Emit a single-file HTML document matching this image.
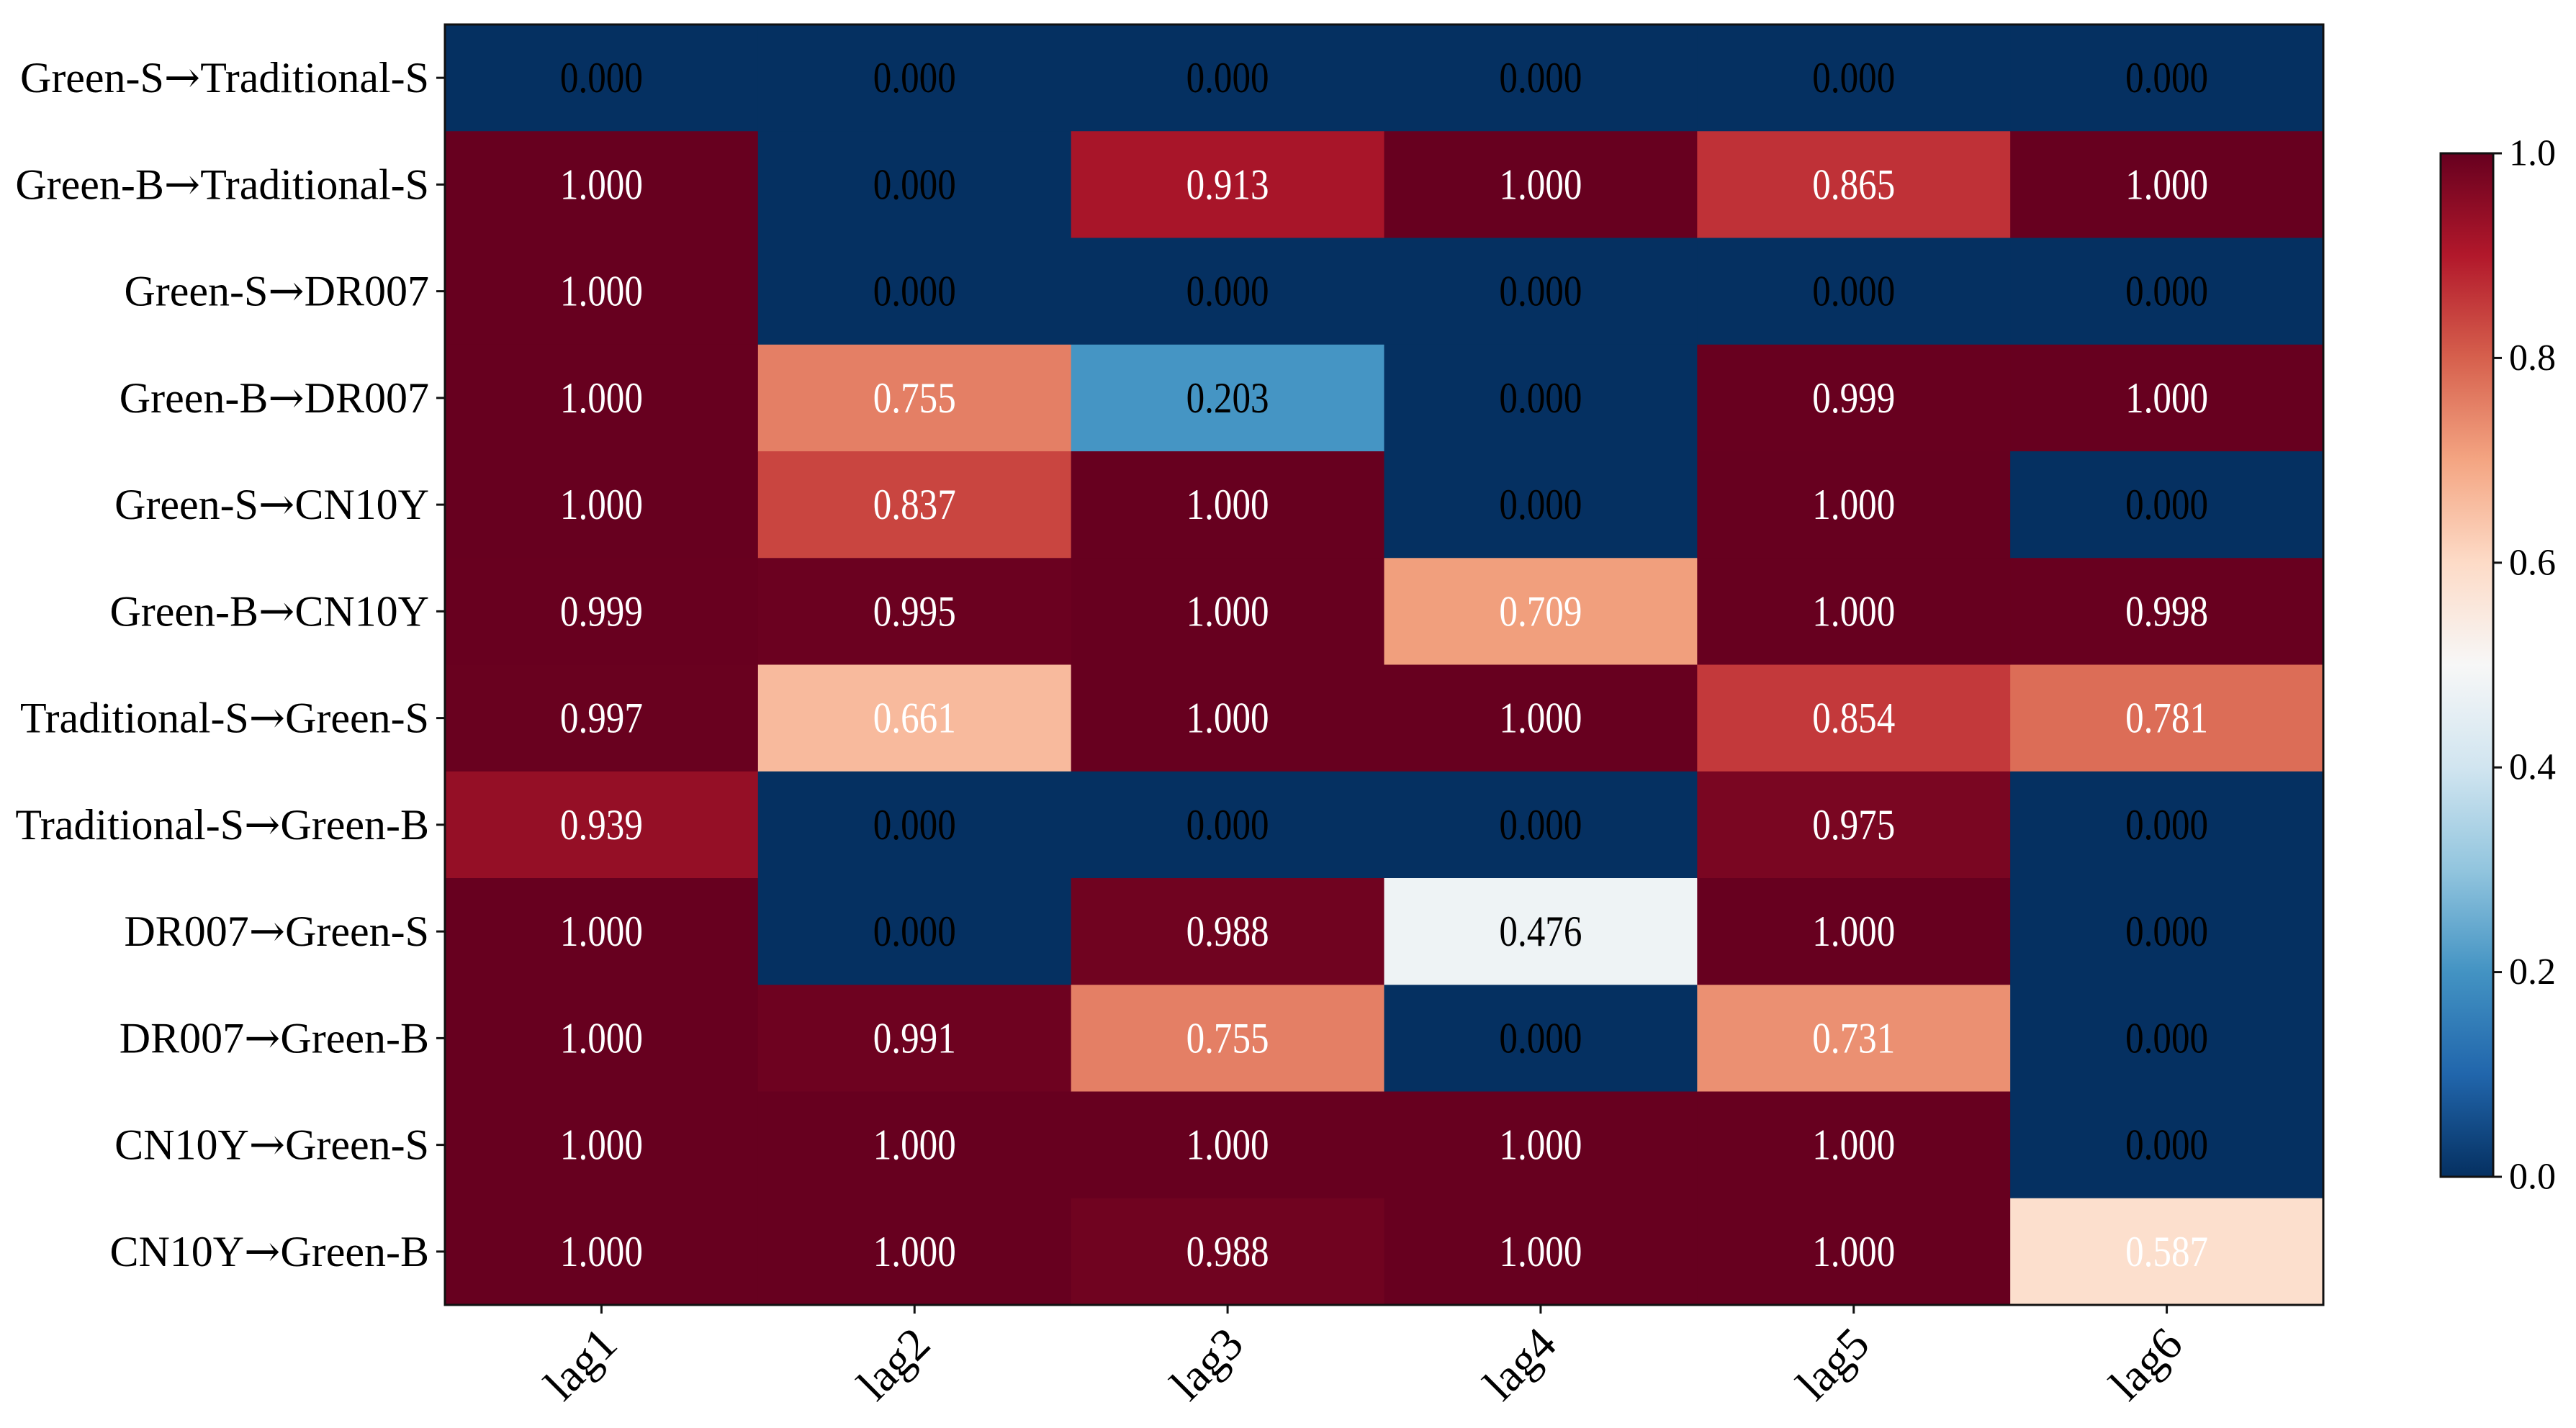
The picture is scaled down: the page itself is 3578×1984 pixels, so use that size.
<!DOCTYPE html>
<html><head><meta charset="utf-8"><style>
html,body{margin:0;padding:0;background:#fff;}
svg{display:block;font-family:"Liberation Serif","Times New Roman",serif;}
</style></head><body>
<svg id="chart" width="3578" height="1984" viewBox="0 0 3578 1984" xmlns="http://www.w3.org/2000/svg">
<defs>
<linearGradient id="cbgrad" x1="0" y1="1" x2="0" y2="0"></linearGradient>
</defs>
<g id="cells"></g>
<g id="annots"></g>
<rect x="618" y="34" width="2609" height="1779" fill="none" stroke="#111" stroke-width="3"/>
<g id="yaxis"></g>
<g id="xaxis"></g>
<g id="cbar"></g>
</svg>
<script>
const rows = ["Green-S→Traditional-S","Green-B→Traditional-S","Green-S→DR007","Green-B→DR007","Green-S→CN10Y","Green-B→CN10Y","Traditional-S→Green-S","Traditional-S→Green-B","DR007→Green-S","DR007→Green-B","CN10Y→Green-S","CN10Y→Green-B"];
const cols = ["lag1","lag2","lag3","lag4","lag5","lag6"];
const lag1 = [0.000,1.000,1.000,1.000,1.000,0.999,0.997,0.939,1.000,1.000,1.000,1.000];
const lag2 = [0.000,0.000,0.000,0.755,0.837,0.995,0.661,0.000,0.000,0.991,1.000,1.000];
const lag3 = [0.000,0.913,0.000,0.203,1.000,1.000,1.000,0.000,0.988,0.755,1.000,0.988];
const lag4 = [0.000,1.000,0.000,0.000,0.000,0.709,1.000,0.000,0.476,0.000,1.000,1.000];
const lag5 = [0.000,0.865,0.000,0.999,1.000,1.000,0.854,0.975,1.000,0.731,1.000,1.000];
const lag6 = [0.000,1.000,0.000,1.000,0.000,0.998,0.781,0.000,0.000,0.000,0.000,0.587];
const series = [lag1,lag2,lag3,lag4,lag5,lag6];
const cbTicks = [0.0,0.2,0.4,0.6,0.8,1.0];

const NS="http://www.w3.org/2000/svg";
const L=618,T=34,W=2609,H=1779;
const cw=W/cols.length, rh=H/rows.length;
const xPos=i=>L+i*cw, yPos=j=>T+j*rh;
const RdBu=["#053061","#2166ac","#4393c3","#92c5de","#d1e5f0","#f7f7f7","#fddbc7","#f4a582","#d6604d","#b2182b","#67001f"];
function hex(h){return [1,3,5].map(i=>parseInt(h.substr(i,2),16));}
function cmap(v){v=Math.max(0,Math.min(1,v));const p=v*10,i=Math.min(9,Math.floor(p)),f=p-i;const a=hex(RdBu[i]),b=hex(RdBu[i+1]);return "rgb("+a.map((c,k)=>Math.round(c+(b[k]-c)*f)).join(",")+")";}
function mk(tag,attrs,parent){const e=document.createElementNS(NS,tag);for(const k in attrs)e.setAttribute(k,attrs[k]);parent.appendChild(e);return e;}
const gC=document.getElementById('cells'),gA=document.getElementById('annots'),gY=document.getElementById('yaxis'),gX=document.getElementById('xaxis'),gB=document.getElementById('cbar');
series.forEach((s,i)=>{s.forEach((v,j)=>{
  const r=mk('rect',{x:xPos(i),y:yPos(j),width:cw+0.6,height:rh+0.6,fill:cmap(v)},gC);
  
  
  const t=mk('text',{x:xPos(i)+cw/2,y:yPos(j)+rh/2,'text-anchor':'middle','dominant-baseline':'central','font-size':60,textLength:115,lengthAdjust:'spacingAndGlyphs',fill:v>0.5?'#fff':'#000'},gA);
  t.textContent=v.toFixed(3);
  
  
});});
rows.forEach((r,j)=>{
  const y=yPos(j)+rh/2;
  const tk=mk('line',{x1:L-12,x2:L,y1:y,y2:y,stroke:'#111','stroke-width':3},gY);
  
  
  const t=mk('text',{x:L-22,y:y,'text-anchor':'end','dominant-baseline':'central','font-size':60,fill:'#000'},gY);
  const parts=r.split('→');
  mk('tspan',{},t).textContent=parts[0];
  const ar=mk('tspan',{'font-family':'DejaVu Serif, serif'},t);
  ar.textContent='→';
  mk('tspan',{},t).textContent=parts[1];
  
  
});
cols.forEach((c,i)=>{
  const x=xPos(i)+cw/2;
  const tk=mk('line',{x1:x,x2:x,y1:T+H,y2:T+H+12,stroke:'#111','stroke-width':3},gX);
  
  
  const t=mk('text',{x:x+25,y:T+H+58,'text-anchor':'end','font-size':64,transform:`rotate(-45 ${x+25} ${T+H+58})`,fill:'#000'},gX);
  t.textContent=c;
  
  
});
const grad=document.getElementById('cbgrad');
RdBu.forEach((c,k)=>mk('stop',{offset:(k*10)+'%','stop-color':c},grad));
const CX=3390,CY=213,CW=73,CH=1422;
const cbY=v=>CY+CH*(1-v);
const cr=mk('rect',{x:CX,y:CY,width:CW,height:CH,fill:'url(#cbgrad)',stroke:'#111','stroke-width':3},gB);


cbTicks.forEach(v=>{
  const y=cbY(v);
  const tk=mk('line',{x1:CX+CW,x2:CX+CW+12,y1:y,y2:y,stroke:'#111','stroke-width':3},gB);
  
  
  const t=mk('text',{x:CX+CW+22,y:y,'dominant-baseline':'central','font-size':52,fill:'#000'},gB);
  t.textContent=v.toFixed(1);
  
  
});
</script>
</body></html>
